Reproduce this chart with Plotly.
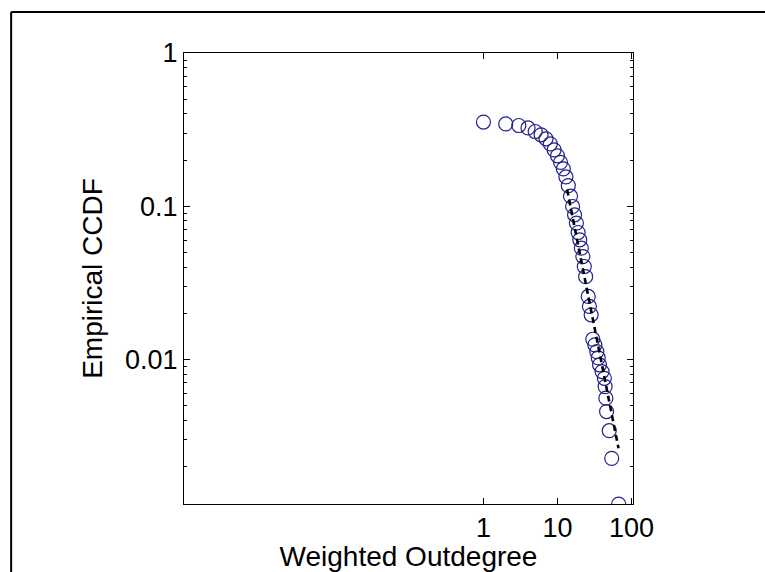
import plotly.graph_objects as go

# Data
deg = [1, 2, 3, 4, 5, 6, 7, 8, 9, 10, 11, 12, 13, 14, 15, 16, 17, 18, 19, 20,
       21, 22, 23, 24, 26, 27, 28.5, 30, 32, 34, 35.5, 37, 40, 43, 44, 45, 46,
       50, 54, 67]
ccdf = [0.354, 0.344, 0.336, 0.324, 0.307, 0.292, 0.275, 0.255, 0.233, 0.213,
        0.193, 0.175, 0.155, 0.136, 0.116, 0.0994, 0.0877, 0.0774, 0.0672,
        0.0602, 0.0531, 0.0468, 0.0403, 0.0346, 0.0257, 0.0221, 0.0195,
        0.0135, 0.0124, 0.0112, 0.0102, 0.00919, 0.0083, 0.0075, 0.00662,
        0.00556, 0.00455, 0.00341, 0.00225, 0.00113]
fit_x = [13.5, 66.7]
fit_y = [0.128, 0.00262]

x_ticks = [1, 10, 100]
x_ticktext = ["1", "10", "100"]
y_ticks = [0.01, 0.1, 1]
y_ticktext = ["0.01", "0.1", "1"]

FONT = "Liberation Sans, Arial, sans-serif"

fig = go.Figure()
fig.add_trace(go.Scatter(
    x=deg, y=ccdf, mode="markers",
    marker=dict(symbol="circle-open", size=14, color="#22228a",
                line=dict(width=1.2, color="#22228a")),
    showlegend=False))
fig.add_trace(go.Scatter(
    x=fit_x, y=fit_y, mode="lines",
    line=dict(color="black", width=2.6, dash="6px,4px"),
    showlegend=False))

y_minor = [m * 10 ** e for e in (-3, -2, -1) for m in range(2, 10)]

fig.update_layout(
    width=765, height=572,
    margin=dict(l=184, r=132, t=53, b=68, autoexpand=False),
    paper_bgcolor="white", plot_bgcolor="white",
    font=dict(family=FONT, size=28, color="black"),
    xaxis=dict(
        type="log", range=[-4.045, 2.02],
        tickmode="array", tickvals=x_ticks, ticktext=x_ticktext,
        ticks="inside", ticklen=6, tickcolor="black", tickwidth=1,
        showline=True, linecolor="black", linewidth=1, mirror="allticks",
        showgrid=False, zeroline=False,
        tickfont=dict(size=27),
        title=dict(text="Weighted Outdegree", font=dict(size=28), standoff=2),
    ),
    yaxis=dict(
        type="log", range=[-2.946, 0],
        tickmode="array", tickvals=y_ticks, ticktext=y_ticktext,
        ticks="inside", ticklen=6, tickcolor="black", tickwidth=1,
        minor=dict(tickmode="array", tickvals=y_minor, ticks="inside",
                   ticklen=3, tickcolor="black", showgrid=False),
        showline=True, linecolor="black", linewidth=1, mirror="allticks",
        showgrid=False, zeroline=False,
        tickfont=dict(size=27),
        title=dict(text="Empirical CCDF", font=dict(size=28), standoff=14),
    ),
    shapes=[
        dict(type="line", xref="paper", yref="paper",
             x0=-0.385, x1=1.3, y0=1.0909, y1=1.0909,
             line=dict(color="black", width=2)),
        dict(type="line", xref="paper", yref="paper",
             x0=-0.385, x1=-0.385, y0=1.0909, y1=-0.16,
             line=dict(color="black", width=2)),
    ],
)

fig.write_html(
    "out.html",
    config={"displayModeBar": False},
    post_script="document.body.style.margin='0';"
                "document.body.style.overflow='hidden';",
)
